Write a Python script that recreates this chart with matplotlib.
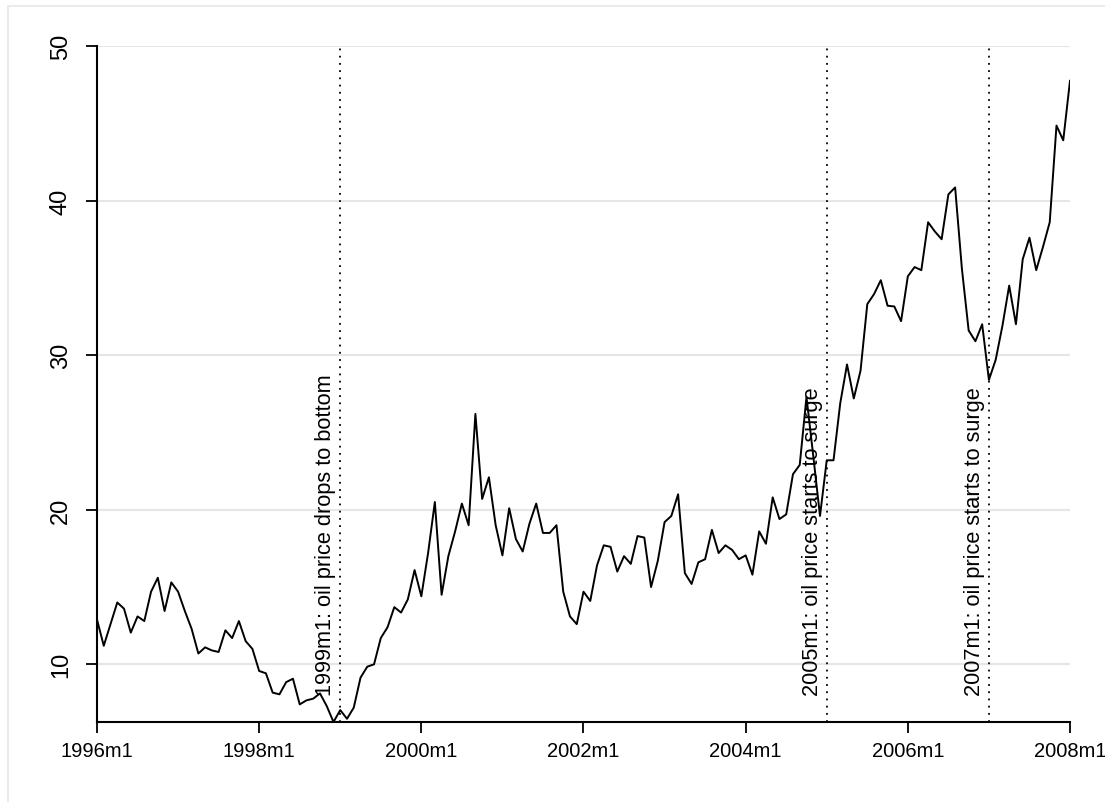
import matplotlib
matplotlib.use("Agg")
import matplotlib.pyplot as plt
from matplotlib.patches import Rectangle
import matplotlib.transforms as mtransforms

plt.rcParams['font.family'] = ['Liberation Sans', 'DejaVu Sans']

# monthly series, 1996m1 .. 2008m1
start_year = 1996
values = [
    12.9, 11.2, 12.6, 14.0, 13.6, 12.05, 13.1, 12.8, 14.7, 15.6, 13.45, 15.3,
    14.7, 13.45, 12.3, 10.7, 11.1, 10.9, 10.8, 12.2, 11.7, 12.8, 11.5, 11.0,
    9.57, 9.42, 8.17, 8.06, 8.85, 9.07, 7.41, 7.67, 7.78, 8.12, 7.3, 6.27,
    7.04, 6.48, 7.2, 9.14, 9.85, 10.0, 11.7, 12.4, 13.7, 13.35, 14.2, 16.1,
    14.4, 17.2, 20.5, 14.5, 17.0, 18.6, 20.4, 19.0, 26.2, 20.7, 22.1, 19.0,
    17.05, 20.1, 18.1, 17.3, 19.1, 20.4, 18.5, 18.5, 19.0, 14.7, 13.1, 12.6,
    14.7, 14.1, 16.4, 17.7, 17.6, 16.0, 17.0, 16.5, 18.3, 18.2, 15.0, 16.7,
    19.2, 19.6, 21.0, 15.9, 15.2, 16.6, 16.8, 18.7, 17.2, 17.7, 17.4, 16.8,
    17.05, 15.8, 18.6, 17.8, 20.8, 19.4, 19.7, 22.3, 22.9, 27.3, 23.5, 19.6,
    23.2, 23.2, 26.9, 29.4, 27.2, 29.0, 33.3, 33.95, 34.85, 33.2, 33.15, 32.2,
    35.1, 35.7, 35.5, 38.6, 38.0, 37.5, 40.4, 40.85, 35.6, 31.6, 30.9, 32.0,
    28.4, 29.7, 31.9, 34.5, 32.0, 36.2, 37.6, 35.5, 37.0, 38.6, 44.85, 43.9,
    47.75,
]
months = list(range(len(values)))

x_tick_labels = ["1996m1", "1998m1", "2000m1", "2002m1", "2004m1", "2006m1", "2008m1"]
y_ticks = [10, 20, 30, 40, 50]

event_months = ["1999m1", "2005m1", "2007m1"]
event_texts = ["1999m1: oil price drops to bottom",
               "2005m1: oil price starts to surge",
               "2007m1: oil price starts to surge"]


def month_index(lbl):
    y, m = lbl.split("m")
    return (int(y) - start_year) * 12 + int(m) - 1


W, H = 1105, 803
fig = plt.figure(figsize=(W / 100, H / 100), dpi=100)
fig.patch.set_facecolor("white")

# outer light border (graph region)
fig.patches.append(Rectangle((8 / W, -0.1), 1.2, (H - 7) / H + 0.1,
                             transform=fig.transFigure, fill=False,
                             edgecolor="#ebebeb", linewidth=1.5))

ax = fig.add_axes([97 / W, (H - 723) / H, (1070 - 97) / W, (723 - 47) / H])

ax.plot(months, values, color="black", linewidth=1.4, zorder=3)

ax.set_xlim(0, len(values) - 1)
ax.set_ylim(min(values), 50)

ax.set_xticks([month_index(l) for l in x_tick_labels])
ax.set_xticklabels(x_tick_labels, fontsize=14.5)
ax.set_yticks(y_ticks)
ax.set_yticklabels([str(v) for v in y_ticks], fontsize=17, rotation=90, va="center")

ax.tick_params(axis="x", length=8, width=1.3, pad=6, colors="black")
ax.tick_params(axis="y", length=8, width=1.3, pad=10, colors="black")

ax.grid(axis="y", color="#e6e6e6", linewidth=1.5, zorder=0)
ax.set_axisbelow(True)

for s in ["top", "right"]:
    ax.spines[s].set_visible(False)
for s in ["left", "bottom"]:
    ax.spines[s].set_linewidth(1.5)

offset = mtransforms.offset_copy(ax.transData, fig=fig, x=-4, y=0, units="dots")
for lbl, txt in zip(event_months, event_texts):
    xm = month_index(lbl)
    ax.axvline(xm, color="black", linestyle=(0, (1, 3)), linewidth=1.3, zorder=2)
    ax.text(xm, 8.0, txt, rotation=90, ha="right", va="bottom", fontsize=15.7,
            transform=offset, zorder=4)

fig.savefig("out.png", dpi=100, facecolor="white")
